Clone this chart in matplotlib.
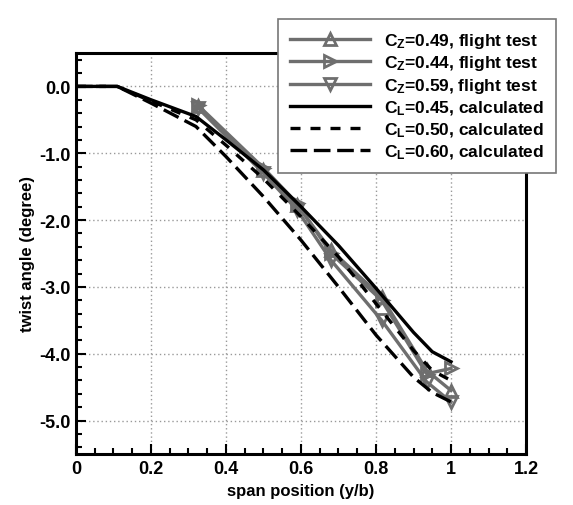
import numpy as np
import matplotlib
matplotlib.use('Agg')
import matplotlib.pyplot as plt
from matplotlib.ticker import MultipleLocator, FixedLocator

plt.rcParams['font.family'] = ['Liberation Sans', 'DejaVu Sans']
plt.rcParams['font.weight'] = 'bold'
plt.rcParams['mathtext.fontset'] = 'custom'
plt.rcParams['mathtext.rm'] = 'Liberation Sans:bold'
plt.rcParams['mathtext.bf'] = 'Liberation Sans:bold'
plt.rcParams['mathtext.default'] = 'bf'

# flight test data
x_test = [0.325, 0.5, 0.59, 0.68, 0.815, 0.935, 1.0]
cz049 = [-0.30, -1.25, -1.78, -2.45, -3.15, -4.25, -4.55]
cz044 = [-0.28, -1.22, -1.75, -2.50, -3.20, -4.30, -4.22]
cz059 = [-0.32, -1.30, -1.85, -2.60, -3.50, -4.42, -4.72]

# calculated
x_calc = [0, 0.11, 0.2, 0.32, 0.4, 0.5, 0.6, 0.7, 0.8, 0.9, 0.95, 1.0]
cl045 = [0, 0, -0.20, -0.45, -0.80, -1.25, -1.80, -2.38, -3.02, -3.68, -3.97, -4.12]
cl050 = [0, 0, -0.22, -0.50, -0.88, -1.38, -1.95, -2.55, -3.25, -3.95, -4.25, -4.40]
cl060 = [0, 0, -0.25, -0.60, -1.05, -1.65, -2.30, -3.00, -3.72, -4.35, -4.58, -4.72]

x_ticks = [0, 0.2, 0.4, 0.6, 0.8, 1.0, 1.2]
x_ticklabels = ['0', '0.2', '0.4', '0.6', '0.8', '1', '1.2']
y_ticks = [0, -1, -2, -3, -4, -5]
y_ticklabels = ['0.0', '-1.0', '-2.0', '-3.0', '-4.0', '-5.0']

gray = '#6e6e6e'

fig = plt.figure(figsize=(5.73, 5.06), dpi=100)
ax = fig.add_axes([0.1326, 0.1008, 0.7854, 0.7925])

ax.plot(x_test, cz049, color=gray, lw=2.4, marker='^', ms=8, mfc='none', mew=2,
        label=r'C$_{Z}$=0.49, flight test')
ax.plot(x_test, cz044, color=gray, lw=2.4, marker='>', ms=8, mfc='none', mew=2,
        label=r'C$_{Z}$=0.44, flight test')
ax.plot(x_test, cz059, color=gray, lw=2.4, marker='v', ms=8, mfc='none', mew=2,
        label=r'C$_{Z}$=0.59, flight test')
ax.plot(x_calc, cl045, color='black', lw=2.4, label=r'C$_{L}$=0.45, calculated')
ax.plot(x_calc, cl050, color='black', lw=2.4, ls=(0, (3, 3)), label=r'C$_{L}$=0.50, calculated')
ax.plot(x_calc, cl060, color='black', lw=2.4, ls=(0, (5, 2)), label=r'C$_{L}$=0.60, calculated')

ax.set_xlim(0, 1.2)
ax.set_ylim(-5.5, 0.5)
ax.xaxis.set_major_locator(FixedLocator(x_ticks))
ax.xaxis.set_minor_locator(MultipleLocator(0.05))
ax.yaxis.set_major_locator(FixedLocator(y_ticks))
ax.yaxis.set_minor_locator(MultipleLocator(0.2))
ax.set_xticklabels(x_ticklabels)
ax.set_yticklabels(y_ticklabels)
ax.tick_params(which='both', direction='in', width=1.5, labelsize=13, top=False, right=False)
ax.tick_params(which='major', length=7, pad=4)
ax.tick_params(which='minor', length=4)
for s in ax.spines.values():
    s.set_linewidth(2.2)
ax.grid(True, which='major', color='#999999', lw=1, ls=(0, (1, 2)))

ax.set_xlabel('span position (y/b)', fontsize=12, fontweight='bold', labelpad=5)
ax.set_ylabel('twist angle (degree)', fontsize=12, fontweight='bold', labelpad=3)

leg = fig.legend(loc='upper right', bbox_to_anchor=(0.986, 0.978), fontsize=12.5,
                 frameon=True, fancybox=False, framealpha=1, edgecolor='#777777',
                 handlelength=4.6, handletextpad=0.8, labelspacing=0.2, borderpad=0.7)
leg.get_frame().set_linewidth(1.2)

fig.savefig('out.png', dpi=100)
